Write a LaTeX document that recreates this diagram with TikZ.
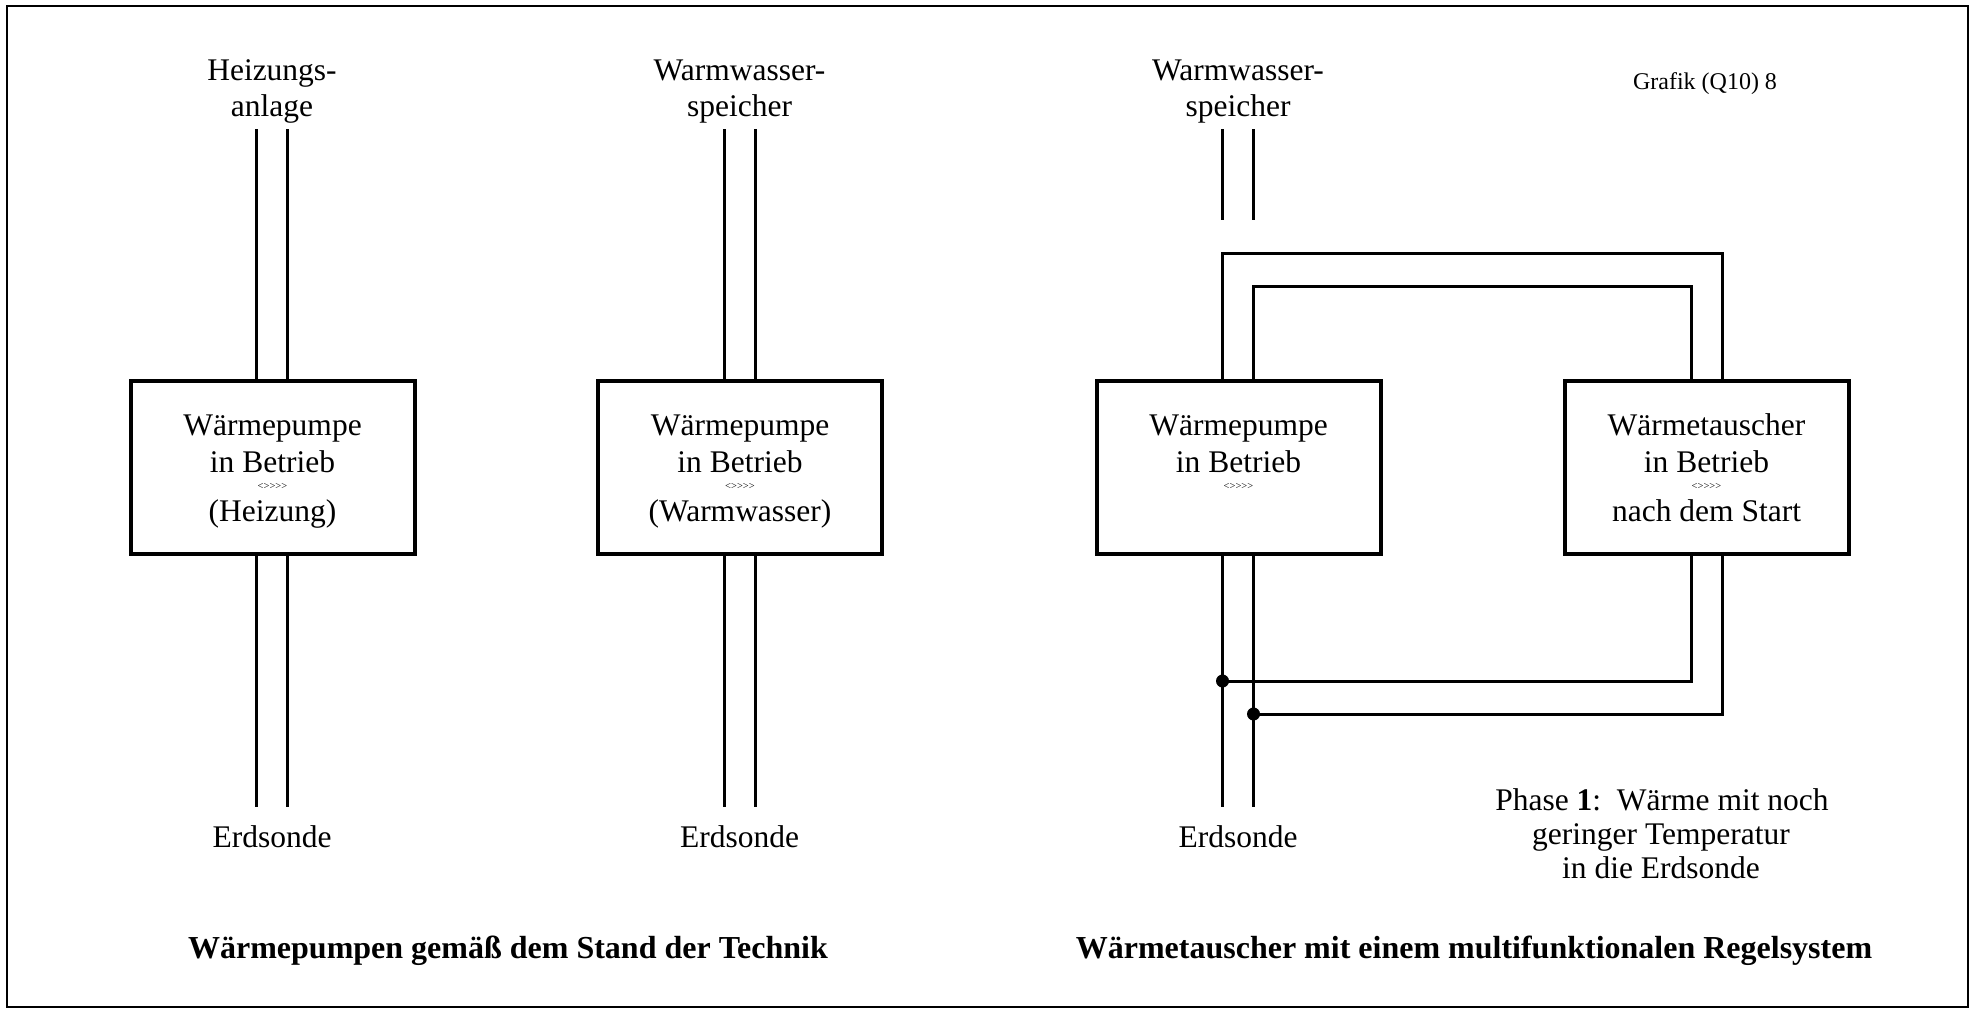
\documentclass[tikz,border=0pt]{standalone}
\usepackage{fontspec}
\setmainfont{Liberation Serif}
\newfontfamily\symfont[Ligatures=ResetAll]{Liberation Serif}
\newcommand{\flowsym}{{\symfont <\kern0pt>\kern0pt>\kern0pt>\kern0pt>}}
\begin{document}
\begin{tikzpicture}[x=1pt,y=-1pt,
  box/.style={draw, line width=4pt, minimum width=284pt, minimum height=173pt, inner sep=0pt},
  pipe/.style={line width=3pt, line join=miter},
  lbl/.style={font=\fontsize{31.5}{36}\selectfont, anchor=base, inner sep=0pt},
  sym/.style={font=\fontsize{10.5}{10.5}\selectfont, inner sep=0pt},
  ttl/.style={font=\fontsize{32}{36}\selectfont\bfseries, anchor=base, inner sep=0pt},
  small/.style={font=\fontsize{24}{28}\selectfont, anchor=base, inner sep=0pt},
  dot/.style={circle, fill, inner sep=0pt, minimum size=13pt}]
\useasboundingbox (0,0) rectangle (1971,1009);
\draw[line width=2.5pt] (7,6) rectangle (1968,1007);

% boxes
\node[box] (b1) at (272.5,467.5) {};
\node[box] (b2) at (740,467.5) {};
\node[box] (b3) at (1238.5,467.5) {};
\node[box] (b4) at (1706.5,467) {};

% box texts
\node[lbl] (b1l1) at ([yshift=32.5pt]b1.center) {Wärmepumpe};
\node[lbl] (b1l2) at ([yshift=-4.5pt]b1.center) {in Betrieb};
\node[sym] (b1s)  at ([yshift=-18.5pt]b1.center) {\flowsym};
\node[lbl] (b1l3) at ([yshift=-53.5pt]b1.center) {(Heizung)};

\node[lbl] (b2l1) at ([yshift=32.5pt]b2.center) {Wärmepumpe};
\node[lbl] (b2l2) at ([yshift=-4.5pt]b2.center) {in Betrieb};
\node[sym] (b2s)  at ([yshift=-18.5pt]b2.center) {\flowsym};
\node[lbl] (b2l3) at ([yshift=-53.5pt]b2.center) {(Warmwasser)};

\node[lbl] (b3l1) at ([yshift=32.5pt]b3.center) {Wärmepumpe};
\node[lbl] (b3l2) at ([yshift=-4.5pt]b3.center) {in Betrieb};
\node[sym] (b3s)  at ([yshift=-18.5pt]b3.center) {\flowsym};

\node[lbl] (b4l1) at ([yshift=32pt]b4.center) {Wärmetauscher};
\node[lbl] (b4l2) at ([yshift=-5pt]b4.center) {in Betrieb};
\node[sym] (b4s)  at ([yshift=-19pt]b4.center) {\flowsym};
\node[lbl] (b4l3) at ([yshift=-54pt]b4.center) {nach dem Start};

% top labels
\node[lbl] (t1a) at (272,80) {Heizungs-};
\node[lbl] (t1b) at (272,116) {anlage};
\node[lbl] (t2a) at (739.5,80) {Warmwasser-};
\node[lbl] (t2b) at (739.5,116) {speicher};
\node[lbl] (t3a) at (1238,80) {Warmwasser-};
\node[lbl] (t3b) at (1238,116) {speicher};
\node[small] (gr) at (1705,89) {Grafik (Q10) 8};

% bottom labels
\node[lbl] (e1) at (272,847) {Erdsonde};
\node[lbl] (e2) at (739.5,847) {Erdsonde};
\node[lbl] (e3) at (1238,847) {Erdsonde};

% pipe end coordinates
\coordinate (p1a) at (256.5,129); \coordinate (p1b) at (287.5,129);
\coordinate (q1a) at (256.5,807); \coordinate (q1b) at (287.5,807);
\coordinate (p2a) at (724,129);   \coordinate (p2b) at (755,129);
\coordinate (q2a) at (724,807);   \coordinate (q2b) at (755,807);
\coordinate (p3a) at (1222.5,129); \coordinate (p3b) at (1253.5,129);
\coordinate (r3a) at (1222.5,220); \coordinate (r3b) at (1253.5,220);
\coordinate (q3a) at (1222.5,807); \coordinate (q3b) at (1253.5,807);
\coordinate (lo) at (1722,253);
\coordinate (li) at (1691,286);

% panel 1 pipes
\draw[pipe] (p1a) -- (p1a |- b1.north);
\draw[pipe] (p1b) -- (p1b |- b1.north);
\draw[pipe] (b1.south -| q1a) -- (q1a);
\draw[pipe] (b1.south -| q1b) -- (q1b);
% panel 2 pipes
\draw[pipe] (p2a) -- (p2a |- b2.north);
\draw[pipe] (p2b) -- (p2b |- b2.north);
\draw[pipe] (b2.south -| q2a) -- (q2a);
\draw[pipe] (b2.south -| q2b) -- (q2b);
% panel 3 pipes
\draw[pipe] (p3a) -- (r3a);
\draw[pipe] (p3b) -- (r3b);
\draw[pipe] (b3.south -| q3a) -- (q3a);
\draw[pipe] (b3.south -| q3b) -- (q3b);
% loop between boxes 3 and 4
\draw[pipe] (b3.north -| p3a) |- (lo) -- (lo |- b4.north);
\draw[pipe] (b3.north -| p3b) |- (li) -- (li |- b4.north);
% return lines with junction dots
\node[dot] (d1) at (1222.5,681) {};
\node[dot] (d2) at (1253.5,714) {};
\draw[pipe] (b4.south -| li) |- (d1.center);
\draw[pipe] (b4.south -| lo) |- (d2.center);

% phase text
\node[lbl] (ph1) at (1662,810) {Phase \textbf{1}:\ \ Wärme mit noch};
\node[lbl] (ph2) at (1661,844) {geringer Temperatur};
\node[lbl] (ph3) at (1661,878) {in die Erdsonde};

% titles
\node[ttl] (tt1) at (508,958) {Wärmepumpen gemäß dem Stand der Technik};
\node[ttl] (tt2) at (1474,958) {Wärmetauscher mit einem multifunktionalen Regelsystem};
\end{tikzpicture}
\end{document}
